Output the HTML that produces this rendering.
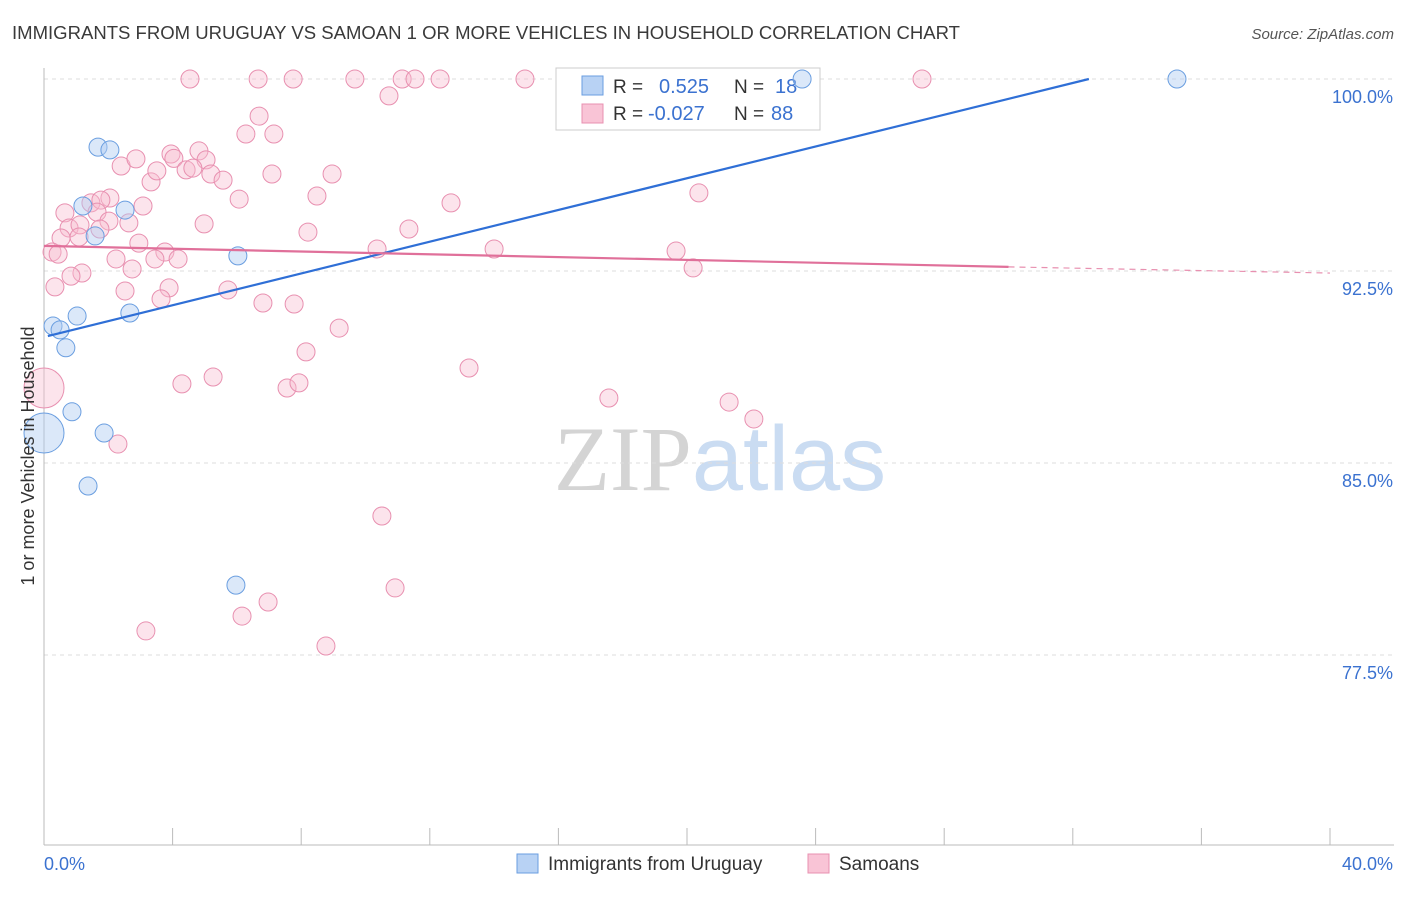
<!DOCTYPE html>
<html><head><meta charset="utf-8"><style>
body{margin:0;background:#fff;font-family:"Liberation Sans",sans-serif;}
svg text{font-family:"Liberation Sans",sans-serif;}
</style></head><body>
<svg id="chart" width="1406" height="892" xmlns="http://www.w3.org/2000/svg">
<text x="12" y="39" font-size="18" fill="#3a3a3a" textLength="948" lengthAdjust="spacingAndGlyphs">IMMIGRANTS FROM URUGUAY VS SAMOAN 1 OR MORE VEHICLES IN HOUSEHOLD CORRELATION CHART</text>
<text x="1394" y="39" font-size="15" fill="#555" text-anchor="end" font-style="italic">Source: ZipAtlas.com</text>
<text x="720" y="490" font-size="92" text-anchor="middle"><tspan fill="#d4d4d4" font-family="Liberation Serif">ZIP</tspan><tspan fill="#cadcf2">atlas</tspan></text>
<g id="grid"></g>
<g id="axes"></g>
<g>
<rect x="556" y="68" width="264" height="62" fill="#fff" stroke="#ccc"/>
<rect x="582" y="76" width="21" height="19" fill="#b8d2f4" stroke="#6a9ee0"/>
<rect x="582" y="104" width="21" height="19" fill="#f9c4d6" stroke="#e890b0"/>
<text x="613" y="93" font-size="19" fill="#333">R =</text><text x="659" y="93" font-size="20" fill="#3b72d0">0.525</text>
<text x="734" y="93" font-size="19" fill="#333">N =</text><text x="775" y="93" font-size="20" fill="#3b72d0">18</text>
<text x="613" y="120" font-size="19" fill="#333">R =</text><text x="648" y="120" font-size="20" fill="#3b72d0">-0.027</text>
<text x="734" y="120" font-size="19" fill="#333">N =</text><text x="771" y="120" font-size="20" fill="#3b72d0">88</text>
</g>
<g id="pinkpts"></g>
<g id="bluepts"></g>
<g id="lines"></g>
<text transform="translate(34,456) rotate(-90)" font-size="18" fill="#333" text-anchor="middle">1 or more Vehicles in Household</text>
<g>
<rect x="517" y="854" width="21" height="19" fill="#b8d2f4" stroke="#6a9ee0"/>
<text x="548" y="870" font-size="19" fill="#333">Immigrants from Uruguay</text>
<rect x="808" y="854" width="21" height="19" fill="#f9c4d6" stroke="#e890b0"/>
<text x="839" y="870" font-size="19" fill="#333">Samoans</text>
</g>
</svg>
<script>
const xTicks=[0,4,8,12,16,20,24,28,32,36,40];
const yTicks=[100,92.5,85,77.5];
const yTickLabels=["100.0%","92.5%","85.0%","77.5%"];
const blueX=[0,0.28,0.5,0.68,1.03,0.87,1.37,1.68,2.05,1.21,1.59,2.52,1.87,2.67,6.03,5.97,23.58,35.24];
const blueY=[86.17,90.35,90.2,89.5,90.74,87.0,84.1,97.34,97.23,95.04,93.87,94.88,86.17,90.86,93.09,80.23,100,100];
const blueR=[20,9,9,9,9,9,9,9,9,9,9,9,9,9,9,9,9,9];
const pinkX=[0,4.54,6.66,7.75,9.67,11.14,11.54,12.32,14.96,27.31,10.73,6.69,6.28,7.15,2.4,2.86,3.95,4.04,4.82,5.04,4.42,4.63,5.19,5.57,3.33,3.51,7.09,8.96,6.07,8.49,2.05,1.46,1.77,3.08,0.65,1.65,2.02,2.64,0.78,1.12,1.74,4.98,0.53,1.09,2.95,8.21,11.35,12.66,0.25,0.44,3.76,2.24,3.45,4.17,10.36,14.0,19.66,20.37,20.19,2.74,1.18,0.84,0.34,2.52,3.89,3.64,5.72,6.81,7.78,9.18,8.15,13.22,4.29,5.26,7.56,7.93,17.57,21.31,22.08,2.3,10.51,10.92,6.97,6.16,3.17,8.77];
const pinkY=[87.93,100,100,100,100,100,100,100,100,100,99.34,98.55,97.85,97.85,96.6,96.88,97.07,96.9,97.19,96.84,96.45,96.52,96.29,96.05,95.98,96.41,96.29,96.29,95.31,95.43,95.35,95.16,95.27,95.04,94.77,94.8,94.45,94.38,94.18,94.3,94.14,94.34,93.79,93.83,93.59,94.02,94.14,95.16,93.24,93.16,93.24,92.97,92.97,92.97,93.36,93.36,93.28,95.55,92.62,92.58,92.42,92.3,91.88,91.72,91.84,91.41,91.76,91.25,91.21,90.27,89.34,88.71,88.09,88.36,87.93,88.13,87.54,87.38,86.72,85.74,82.93,80.12,79.57,79.02,78.44,77.85];
const blueTrend=[0.12,89.96,32.5,100];
const pinkTrend=[0,93.48,30,92.66,40,92.42];
const X=v=>44+v/40*1286, Y=v=>79+(100-v)*25.6;
const NS="http://www.w3.org/2000/svg";
function mk(t,a,p){const e=document.createElementNS(NS,t);for(const k in a)e.setAttribute(k,a[k]);p.appendChild(e);return e;}
const grid=document.getElementById('grid'),axes=document.getElementById('axes');
yTicks.forEach((v,i)=>{
 const l=mk('line',{x1:44,x2:1394,y1:Y(v),y2:Y(v),stroke:'#ddd','stroke-dasharray':'4,4'},grid);
 
 
 const t=mk('text',{x:1393,y:Y(v)+24,'font-size':18,fill:'#3b72d0','text-anchor':'end'},axes);t.textContent=yTickLabels[i];
 
 
});
mk('line',{x1:44,x2:44,y1:68,y2:845,stroke:'#bbb'},axes);
mk('line',{x1:44,x2:1394,y1:845,y2:845,stroke:'#bbb'},axes);
xTicks.forEach(v=>{const l=mk('line',{x1:X(v),x2:X(v),y1:828,y2:845,stroke:'#bbb'},axes);
 
 });
let t=mk('text',{x:44,y:870,'font-size':18,fill:'#3b72d0'},axes);t.textContent='0.0%';


t=mk('text',{x:1393,y:870,'font-size':18,fill:'#3b72d0','text-anchor':'end'},axes);t.textContent='40.0%';


const pg=document.getElementById('pinkpts');
pinkX.forEach((x,i)=>{const c=mk('circle',{cx:X(x),cy:Y(pinkY[i]),r:i==0?20:9,fill:'#f7bcd0','fill-opacity':0.4,stroke:'#e890b0','stroke-width':1},pg);
 
 });
const bg=document.getElementById('bluepts');
blueX.forEach((x,i)=>{const c=mk('circle',{cx:X(x),cy:Y(blueY[i]),r:blueR[i],fill:'#b0ccf2','fill-opacity':0.45,stroke:'#6a9ee0','stroke-width':1},bg);
 
 });
const lg=document.getElementById('lines');
let l=mk('line',{x1:X(blueTrend[0]),y1:Y(blueTrend[1]),x2:X(blueTrend[2]),y2:Y(blueTrend[3]),stroke:'#2f6fd6','stroke-width':2.2},lg);


l=mk('line',{x1:X(pinkTrend[0]),y1:Y(pinkTrend[1]),x2:X(pinkTrend[2]),y2:Y(pinkTrend[3]),stroke:'#e0709a','stroke-width':2.2},lg);


l=mk('line',{x1:X(pinkTrend[2]),y1:Y(pinkTrend[3]),x2:X(pinkTrend[4]),y2:Y(pinkTrend[5]),stroke:'#e890b0','stroke-width':1.2,'stroke-dasharray':'6,5'},lg);


</script>
</body></html>
